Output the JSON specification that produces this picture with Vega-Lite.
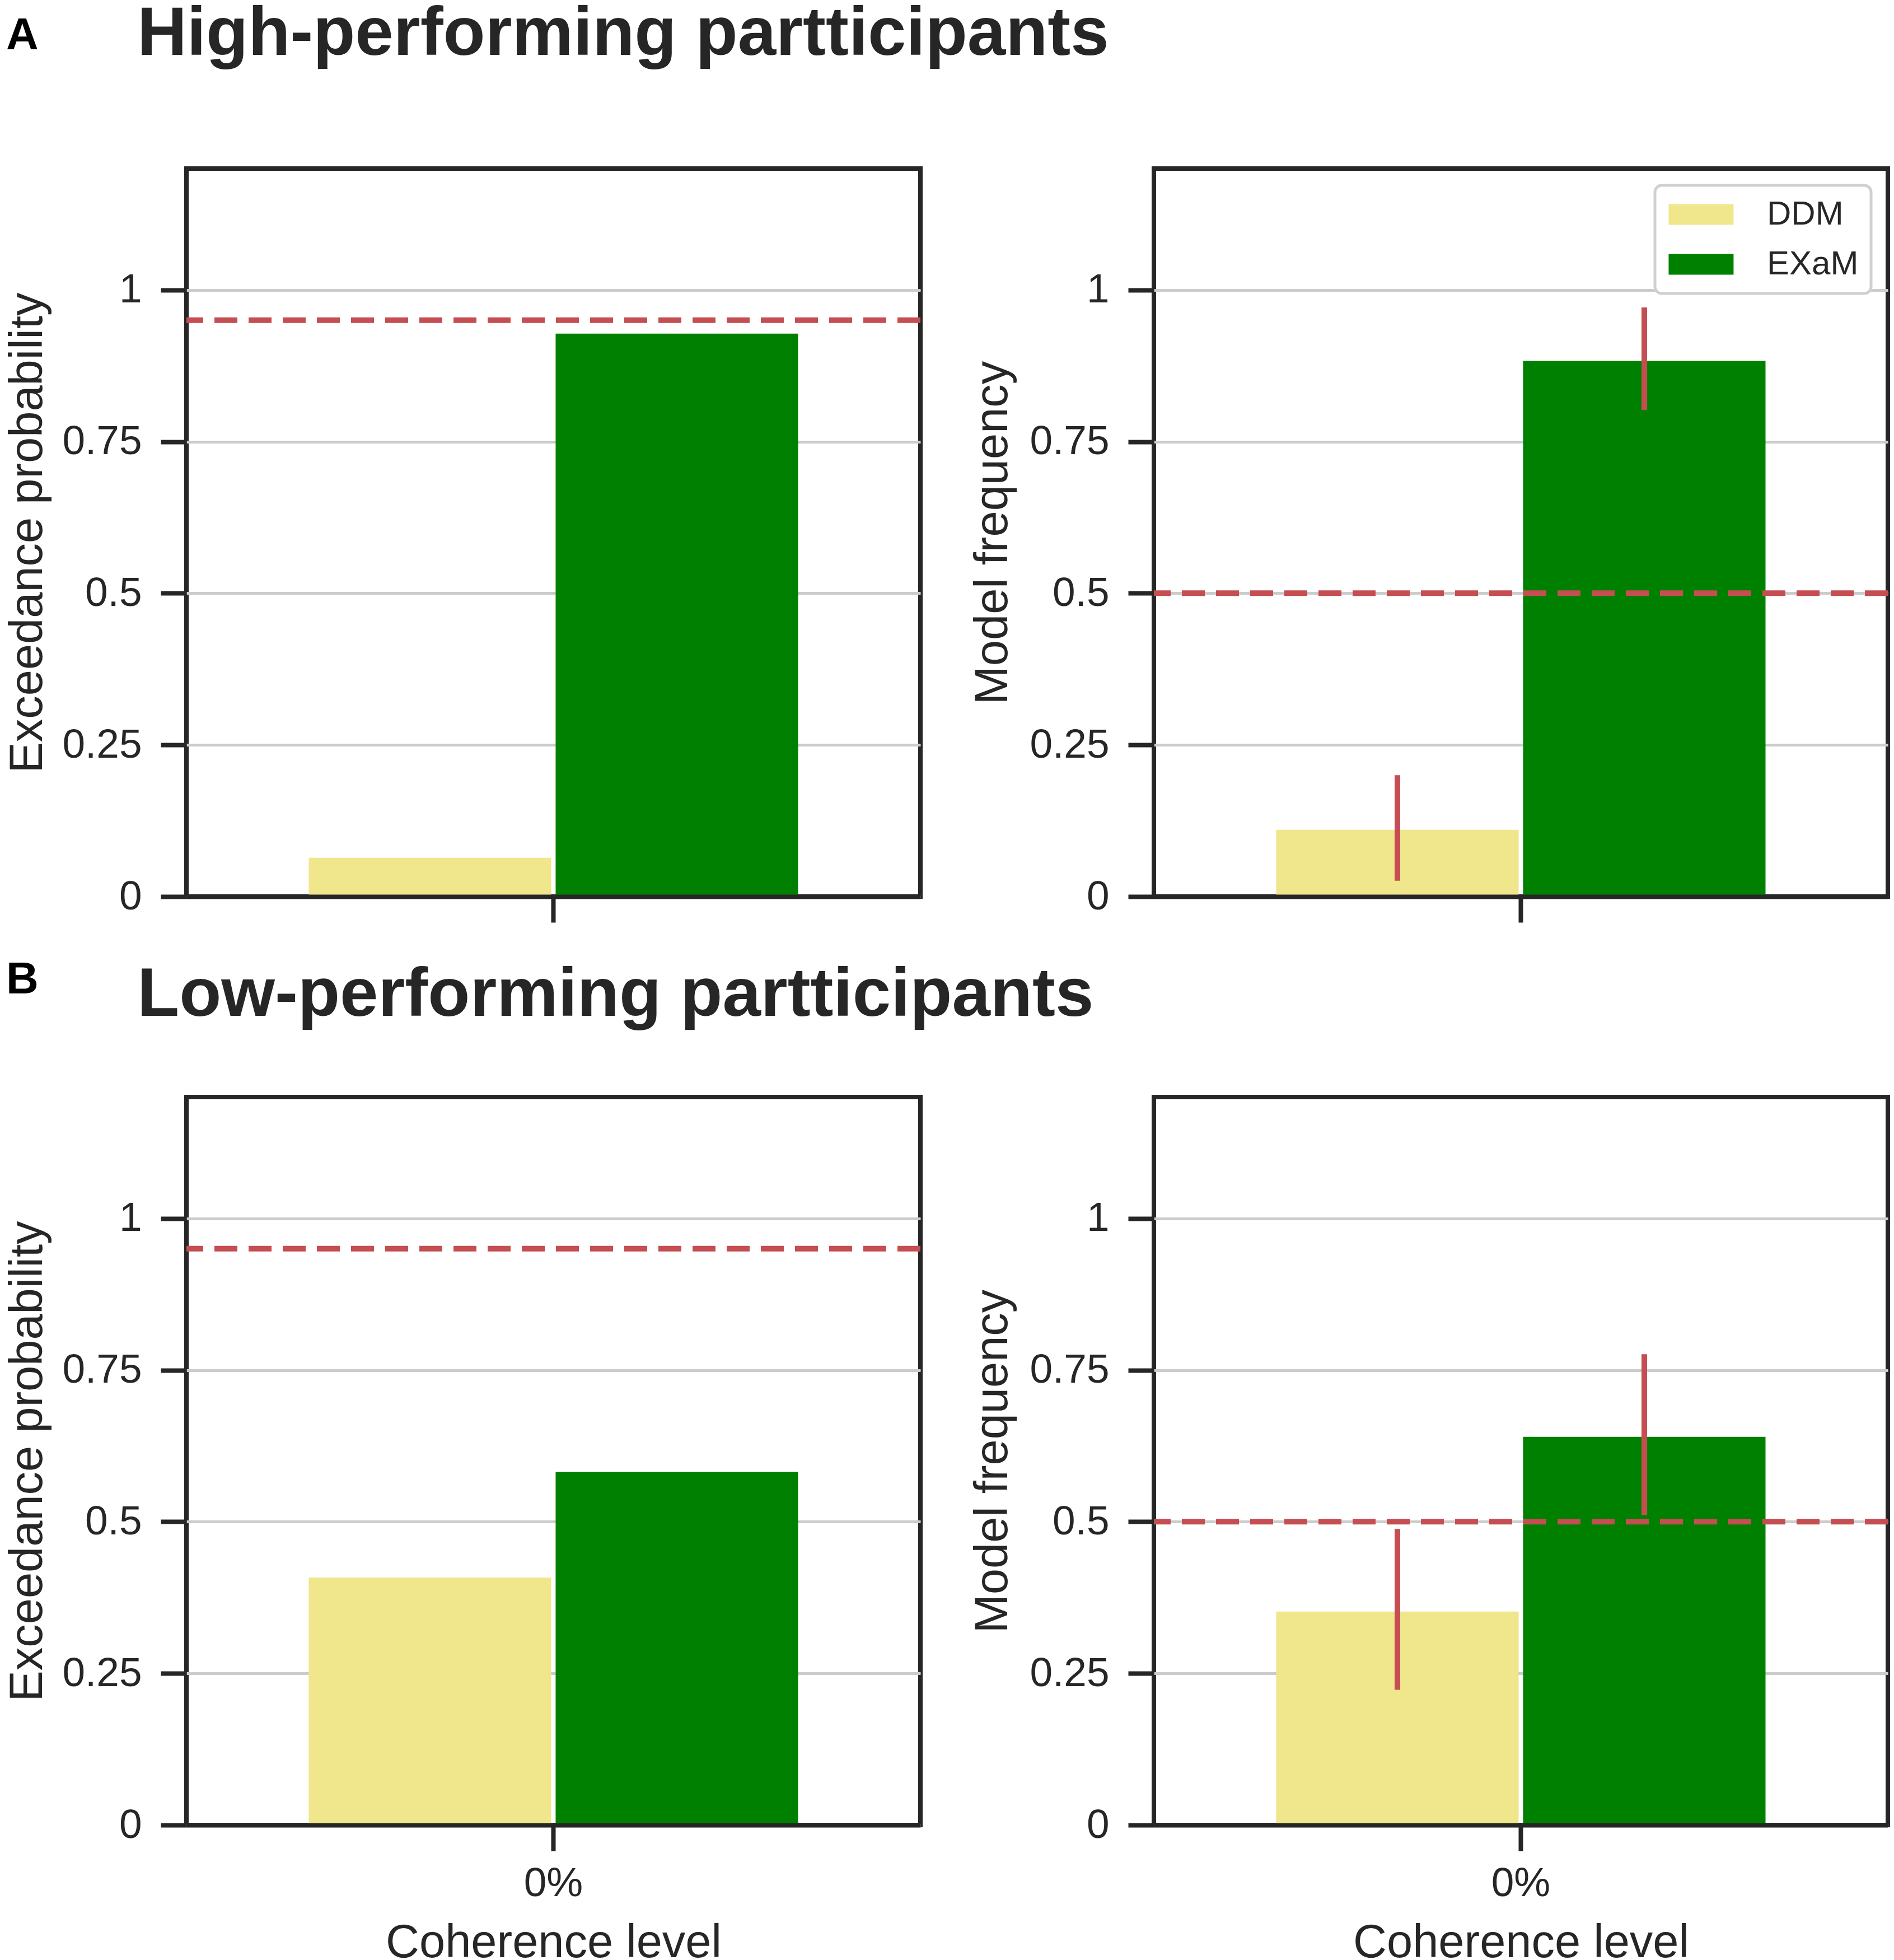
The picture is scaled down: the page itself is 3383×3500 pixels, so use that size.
{
  "$schema": "https://vega.github.io/schema/vega-lite/v6.json",
  "background": "white",
  "padding": {"left": 4, "top": 0, "right": 0, "bottom": 0},
  "config": {
    "font": "Liberation Sans",
    "view": {"stroke": "#262626", "strokeWidth": 8},
    "axis": {
      "labelFont": "Liberation Sans", "labelFontSize": 73, "labelColor": "#262626",
      "titleFont": "Liberation Sans", "titleFontSize": 83, "titleFontWeight": "normal", "titleColor": "#262626",
      "tickColor": "#262626", "tickWidth": 8, "tickSize": 46,
      "gridColor": "#cccccc", "gridWidth": 5
    },
    "legend": {"strokeColor": "#d0d0d0", "strokeWidth": 5, "cornerRadius": 12, "fillColor": "white"},
    "title": {"font": "Liberation Sans", "fontWeight": "bold", "color": "#262626", "anchor": "start", "baseline": "alphabetic"}
  },
  "datasets": {
    "models": [
      {"group": "high", "metric": "ep", "coherence": "0%", "model": "DDM", "value": 0.064},
      {"group": "high", "metric": "ep", "coherence": "0%", "model": "EXaM", "value": 0.928},
      {"group": "high", "metric": "mf", "coherence": "0%", "model": "DDM", "value": 0.110, "lo": 0.026, "hi": 0.200},
      {"group": "high", "metric": "mf", "coherence": "0%", "model": "EXaM", "value": 0.883, "lo": 0.802, "hi": 0.971},
      {"group": "low", "metric": "ep", "coherence": "0%", "model": "DDM", "value": 0.408},
      {"group": "low", "metric": "ep", "coherence": "0%", "model": "EXaM", "value": 0.582},
      {"group": "low", "metric": "mf", "coherence": "0%", "model": "DDM", "value": 0.352, "lo": 0.223, "hi": 0.488},
      {"group": "low", "metric": "mf", "coherence": "0%", "model": "EXaM", "value": 0.640, "lo": 0.511, "hi": 0.776}
    ],
    "thresholds": [
      {"metric": "ep", "value": 0.95},
      {"metric": "mf", "value": 0.5}
    ]
  },
  "resolve": {"scale": {"color": "independent"}, "legend": {"color": "independent"}},
  "spacing": 55,
  "vconcat": [
    {
      "title": {"text": "A", "fontSize": 80, "color": "#000000", "offset": -105, "dx": 7},
      "resolve": {"scale": {"color": "independent"}, "legend": {"color": "independent"}},
      "vconcat": [
        {
          "title": {"text": "High-performing partticipants", "fontSize": 123, "offset": 173, "dx": 241},
          "bounds": "flush",
          "spacing": 417,
          "resolve": {"scale": {"color": "independent"}, "legend": {"color": "independent"}},
          "hconcat": [
            {
              "width": 1311, "height": 1300,
              "layer": [
                {
                  "data": {"name": "models"},
                  "transform": [{"filter": "datum.group === 'high' && datum.metric === 'ep'"}],
                  "mark": {"type": "bar"},
                  "encoding": {
                    "x": {"field": "coherence", "type": "nominal", "scale": {"paddingOuter": 0.25, "paddingInner": 0},
                      "axis": {"labels": false, "title": null, "bandPosition": 0.5, "domain": true, "domainColor": "#262626", "domainWidth": 8, "zindex": 1}},
                    "xOffset": {"field": "model", "scale": {"paddingInner": 0.018, "paddingOuter": 0}},
                    "y": {"field": "value", "type": "quantitative", "scale": {"domain": [0, 1.2], "nice": false},
                      "axis": {"title": "Exceedance probability", "values": [0, 0.25, 0.5, 0.75, 1], "format": "~g", "grid": true, "domain": false, "labelPadding": 34, "titlePadding": 42}},
                    "color": {"field": "model", "type": "nominal", "scale": {"domain": ["DDM", "EXaM"], "range": ["#f0e68c", "#008000"]}, "legend": null}
                  }
                },
                {
                  "data": {"name": "thresholds"},
                  "transform": [{"filter": "datum.metric === 'ep'"}],
                  "mark": {"type": "rule", "color": "#c44e52", "strokeWidth": 10, "strokeDash": [41, 20]},
                  "encoding": {"y": {"field": "value", "type": "quantitative"}}
                }
              ]
            },
            {
              "width": 1311, "height": 1300,
              "layer": [
                {
                  "data": {"name": "models"},
                  "transform": [{"filter": "datum.group === 'high' && datum.metric === 'mf'"}],
                  "mark": {"type": "bar"},
                  "encoding": {
                    "x": {"field": "coherence", "type": "nominal", "scale": {"paddingOuter": 0.25, "paddingInner": 0},
                      "axis": {"labels": false, "title": null, "bandPosition": 0.5, "domain": true, "domainColor": "#262626", "domainWidth": 8, "zindex": 1}},
                    "xOffset": {"field": "model", "scale": {"paddingInner": 0.018, "paddingOuter": 0}},
                    "y": {"field": "value", "type": "quantitative", "scale": {"domain": [0, 1.2], "nice": false},
                      "axis": {"title": "Model frequency", "values": [0, 0.25, 0.5, 0.75, 1], "format": "~g", "grid": true, "domain": false, "labelPadding": 34, "titlePadding": 46}},
                    "color": {"field": "model", "type": "nominal", "scale": {"domain": ["DDM", "EXaM"], "range": ["#f0e68c", "#008000"]},
                      "legend": {"title": null, "orient": "top-right", "offset": 30, "symbolType": "M-1.49,-1H4.78V1H-1.49Z", "symbolSize": 1369, "symbolStrokeWidth": 0, "symbolOpacity": 1,
                        "labelFont": "Liberation Sans", "labelFontSize": 60, "labelColor": "#262626", "labelOffset": 118, "labelLimit": 400, "rowPadding": 29, "padding": 22}}
                  }
                },
                {
                  "data": {"name": "thresholds"},
                  "transform": [{"filter": "datum.metric === 'mf'"}],
                  "mark": {"type": "rule", "color": "#c44e52", "strokeWidth": 10, "strokeDash": [41, 20]},
                  "encoding": {"y": {"field": "value", "type": "quantitative"}}
                },
                {
                  "data": {"name": "models"},
                  "transform": [{"filter": "datum.group === 'high' && datum.metric === 'mf'"}],
                  "mark": {"type": "rule", "color": "#c44e52", "strokeWidth": 10},
                  "encoding": {
                    "x": {"field": "coherence", "type": "nominal"},
                    "xOffset": {"field": "model"},
                    "y": {"field": "lo", "type": "quantitative"},
                    "y2": {"field": "hi"}
                  }
                }
              ]
            }
          ]
        }
      ]
    },
    {
      "title": {"text": "B", "fontSize": 80, "color": "#000000", "offset": -75, "dx": 7},
      "resolve": {"scale": {"color": "independent"}, "legend": {"color": "independent"}},
      "vconcat": [
        {
          "title": {"text": "Low-performing partticipants", "fontSize": 123, "offset": 115, "dx": 241},
          "bounds": "flush",
          "spacing": 417,
          "resolve": {"scale": {"color": "independent"}, "legend": {"color": "independent"}},
          "hconcat": [
            {
              "width": 1311, "height": 1300,
              "layer": [
                {
                  "data": {"name": "models"},
                  "transform": [{"filter": "datum.group === 'low' && datum.metric === 'ep'"}],
                  "mark": {"type": "bar"},
                  "encoding": {
                    "x": {"field": "coherence", "type": "nominal", "scale": {"paddingOuter": 0.25, "paddingInner": 0},
                      "axis": {"title": "Coherence level", "labelAngle": 0, "labelPadding": 22, "titlePadding": 28, "bandPosition": 0.5, "domain": true, "domainColor": "#262626", "domainWidth": 8, "zindex": 1}},
                    "xOffset": {"field": "model", "scale": {"paddingInner": 0.018, "paddingOuter": 0}},
                    "y": {"field": "value", "type": "quantitative", "scale": {"domain": [0, 1.2], "nice": false},
                      "axis": {"title": "Exceedance probability", "values": [0, 0.25, 0.5, 0.75, 1], "format": "~g", "grid": true, "domain": false, "labelPadding": 34, "titlePadding": 42}},
                    "color": {"field": "model", "type": "nominal", "scale": {"domain": ["DDM", "EXaM"], "range": ["#f0e68c", "#008000"]}, "legend": null}
                  }
                },
                {
                  "data": {"name": "thresholds"},
                  "transform": [{"filter": "datum.metric === 'ep'"}],
                  "mark": {"type": "rule", "color": "#c44e52", "strokeWidth": 10, "strokeDash": [41, 20]},
                  "encoding": {"y": {"field": "value", "type": "quantitative"}}
                }
              ]
            },
            {
              "width": 1311, "height": 1300,
              "layer": [
                {
                  "data": {"name": "models"},
                  "transform": [{"filter": "datum.group === 'low' && datum.metric === 'mf'"}],
                  "mark": {"type": "bar"},
                  "encoding": {
                    "x": {"field": "coherence", "type": "nominal", "scale": {"paddingOuter": 0.25, "paddingInner": 0},
                      "axis": {"title": "Coherence level", "labelAngle": 0, "labelPadding": 22, "titlePadding": 28, "bandPosition": 0.5, "domain": true, "domainColor": "#262626", "domainWidth": 8, "zindex": 1}},
                    "xOffset": {"field": "model", "scale": {"paddingInner": 0.018, "paddingOuter": 0}},
                    "y": {"field": "value", "type": "quantitative", "scale": {"domain": [0, 1.2], "nice": false},
                      "axis": {"title": "Model frequency", "values": [0, 0.25, 0.5, 0.75, 1], "format": "~g", "grid": true, "domain": false, "labelPadding": 34, "titlePadding": 46}},
                    "color": {"field": "model", "type": "nominal", "scale": {"domain": ["DDM", "EXaM"], "range": ["#f0e68c", "#008000"]}, "legend": null}
                  }
                },
                {
                  "data": {"name": "thresholds"},
                  "transform": [{"filter": "datum.metric === 'mf'"}],
                  "mark": {"type": "rule", "color": "#c44e52", "strokeWidth": 10, "strokeDash": [41, 20]},
                  "encoding": {"y": {"field": "value", "type": "quantitative"}}
                },
                {
                  "data": {"name": "models"},
                  "transform": [{"filter": "datum.group === 'low' && datum.metric === 'mf'"}],
                  "mark": {"type": "rule", "color": "#c44e52", "strokeWidth": 10},
                  "encoding": {
                    "x": {"field": "coherence", "type": "nominal"},
                    "xOffset": {"field": "model"},
                    "y": {"field": "lo", "type": "quantitative"},
                    "y2": {"field": "hi"}
                  }
                }
              ]
            }
          ]
        }
      ]
    }
  ]
}
